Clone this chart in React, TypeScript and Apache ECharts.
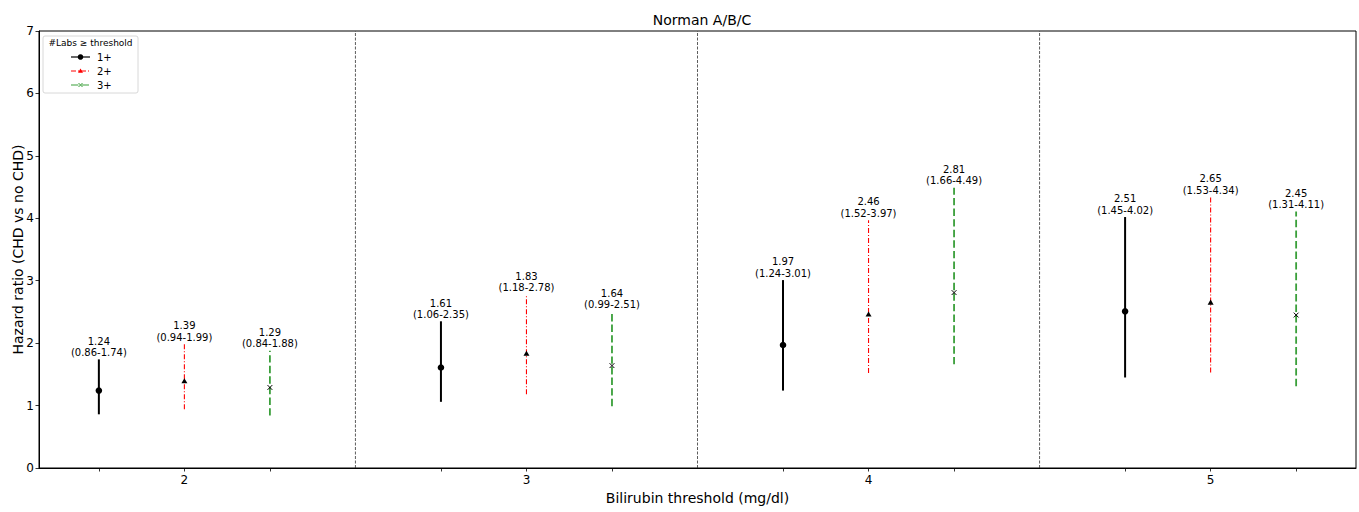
import React, { useEffect, useRef } from "react";
import * as echarts from "echarts";

const thresholds = [2, 3, 4, 5];
const groupNames = ["1+", "2+", "3+"];
const offsets = [-0.25, 0, 0.25];
const hr1 = [1.24, 1.61, 1.97, 2.51];
const lo1 = [0.86, 1.06, 1.24, 1.45];
const hi1 = [1.74, 2.35, 3.01, 4.02];
const hr2 = [1.39, 1.83, 2.46, 2.65];
const lo2 = [0.94, 1.18, 1.52, 1.53];
const hi2 = [1.99, 2.78, 3.97, 4.34];
const hr3 = [1.29, 1.64, 2.81, 2.45];
const lo3 = [0.84, 0.99, 1.66, 1.31];
const hi3 = [1.88, 2.51, 4.49, 4.11];
const separators = [2.5, 3.5, 4.5];
const yTicks = [0, 1, 2, 3, 4, 5, 6, 7];

const FONT = "DejaVu Sans";

const styles = [
  { color: "#000000", width: 2, dash: null as number[] | null, marker: "circle", markerColor: "#000" },
  { color: "#ff0000", width: 1.1, dash: [5, 2, 1, 2], marker: "triangle", markerColor: "#000" },
  { color: "#3a9f3a", width: 1.8, dash: [7.4, 3.2], marker: "x", markerColor: "#000" },
];

function markerShape(kind: string, cx: number, cy: number, color: string, size: number) {
  if (kind === "circle") {
    return { type: "circle", shape: { cx, cy, r: size * 0.55 }, style: { fill: color }, z2: 10 };
  }
  if (kind === "triangle") {
    const s = size * 0.5;
    return {
      type: "polygon",
      shape: { points: [[cx, cy - s], [cx - s, cy + s * 0.7], [cx + s, cy + s * 0.7]] },
      style: { fill: color },
      z2: 10,
    };
  }
  const s = size * 0.4;
  return {
    type: "group",
    z2: 10,
    children: [
      { type: "line", shape: { x1: cx - s, y1: cy - s, x2: cx + s, y2: cy + s }, style: { stroke: color, lineWidth: 1 } },
      { type: "line", shape: { x1: cx - s, y1: cy + s, x2: cx + s, y2: cy - s }, style: { stroke: color, lineWidth: 1 } },
    ],
  };
}

export default function App() {
  const ref = useRef<HTMLDivElement>(null);
  useEffect(() => {
    if (!ref.current) return;
    const chart = echarts.init(ref.current, null, { renderer: "svg" });
    const hrs = [hr1, hr2, hr3];
    const los = [lo1, lo2, lo3];
    const his = [hi1, hi2, hi3];

    const errSeries = groupNames.map((name, g) => {
      const st = styles[g];
      return {
        type: "custom",
        name,
        data: thresholds.map((t, i) => [t + offsets[g], hrs[g][i], los[g][i], his[g][i]]),
        renderItem: (params: any, api: any) => {
          const x = api.value(0);
          const hr = api.value(1);
          const lo = api.value(2);
          const hi = api.value(3);
          const pLo = api.coord([x, lo]);
          const pHi = api.coord([x, hi]);
          const pHr = api.coord([x, hr]);
          return {
            type: "group",
            children: [
              {
                type: "line",
                shape: { x1: pLo[0], y1: pLo[1], x2: pHi[0], y2: pHi[1] },
                style: { stroke: st.color, lineWidth: st.width, lineDash: st.dash || undefined },
              },
              markerShape(st.marker, pHr[0], pHr[1], st.markerColor, 6),
              {
                type: "text",
                x: pHi[0],
                y: pHi[1] - 1,
                style: {
                  text: `${hr.toFixed(2)}\n(${lo.toFixed(2)}-${hi.toFixed(2)})`,
                  align: "center",
                  verticalAlign: "bottom",
                  font: `10px '${FONT}'`,
                  lineHeight: 11.5,
                  fill: "#000",
                },
              },
            ],
          };
        },
        z: 5,
      };
    });

    const sepSeries = {
      type: "custom",
      name: "sep",
      data: separators.map((s) => [s]),
      renderItem: (params: any, api: any) => {
        const x = api.value(0);
        const a = api.coord([x, 0]);
        const b = api.coord([x, 7]);
        return {
          type: "line",
          shape: { x1: a[0], y1: a[1], x2: b[0], y2: b[1] },
          style: { stroke: "#333", lineWidth: 0.8, lineDash: [3, 1.5] },
        };
      },
      z: 2,
    };

    // legend drawn with graphic
    const lx = 43, ly = 36;
    const legendChildren: any[] = [
      { type: "rect", shape: { x: lx, y: ly, width: 95, height: 57, r: 2 }, style: { fill: "rgba(255,255,255,0.8)", stroke: "#d8d8d8", lineWidth: 1 } },
      { type: "text", x: lx + 47.5, y: ly + 7, style: { text: "#Labs \u2265 threshold", align: "center", verticalAlign: "middle", font: `9px '${FONT}'`, fill: "#000" } },
    ];
    groupNames.forEach((name, g) => {
      const st = styles[g];
      const yy = ly + 21 + g * 14;
      legendChildren.push({ type: "line", shape: { x1: lx + 28, y1: yy, x2: lx + 47, y2: yy }, style: { stroke: st.color, lineWidth: g === 1 ? 1 : st.width * 0.6, lineDash: st.dash || undefined } });
      const mk = markerShape(st.marker, lx + 37.5, yy, st.color, 5);
      legendChildren.push(mk);
      legendChildren.push({ type: "text", x: lx + 54, y: yy, style: { text: name, align: "left", verticalAlign: "middle", font: `10px '${FONT}'`, fill: "#000" } });
    });

    chart.setOption({
      animation: false,
      backgroundColor: "#fff",
      title: {
        text: "Norman A/B/C",
        left: 697,
        top: 8,
        textAlign: "center",
        textStyle: { fontFamily: FONT, fontSize: 14, fontWeight: "normal", color: "#000" },
      },
      grid: { left: 39, top: 31, right: 3, bottom: 44, show: true, borderColor: "#000", borderWidth: 1, outerBoundsMode: "none", containLabel: false },
      xAxis: {
        type: "value",
        min: 1.575,
        max: 5.425,
        name: "Bilirubin threshold (mg/dl)",
        nameLocation: "middle",
        nameGap: 23,
        nameMoveOverlap: false,
        nameTextStyle: { fontFamily: FONT, fontSize: 14, color: "#000", verticalAlign: "top" },
        axisLine: { lineStyle: { color: "#000", width: 1 } },
        axisTick: {
          show: true,
          inside: false,
          length: 3.5,
          lineStyle: { color: "#000", width: 0.8 },
          customValues: [1.75, 2, 2.25, 2.75, 3, 3.25, 3.75, 4, 4.25, 4.75, 5, 5.25],
        },
        axisLabel: {
          fontFamily: FONT,
          fontSize: 12,
          color: "#000",
          margin: 6,
          customValues: thresholds,
          formatter: (v: number) => String(v),
        },
        splitLine: { show: false },
      },
      yAxis: {
        type: "value",
        min: 0,
        max: 7,
        interval: 1,
        name: "Hazard ratio (CHD vs no CHD)",
        nameLocation: "middle",
        nameGap: 14,
        nameMoveOverlap: false,
        nameTextStyle: { fontFamily: FONT, fontSize: 14, color: "#000" },
        axisLine: { show: true, lineStyle: { color: "#000", width: 1 } },
        axisTick: { show: true, inside: false, length: 3.5, lineStyle: { color: "#000", width: 0.8 } },
        axisLabel: {
          fontFamily: FONT,
          fontSize: 12,
          color: "#000",
          margin: 5,
          customValues: yTicks,
          formatter: (v: number) => String(v),
        },
        splitLine: { show: false },
      },
      series: [sepSeries, ...errSeries],
      graphic: [{ type: "group", children: legendChildren, z: 100 }],
    });
    return () => chart.dispose();
  }, []);
  return <div ref={ref} style={{ position: "fixed", left: 0, top: 0, width: 1359, height: 512 }} />;
}
